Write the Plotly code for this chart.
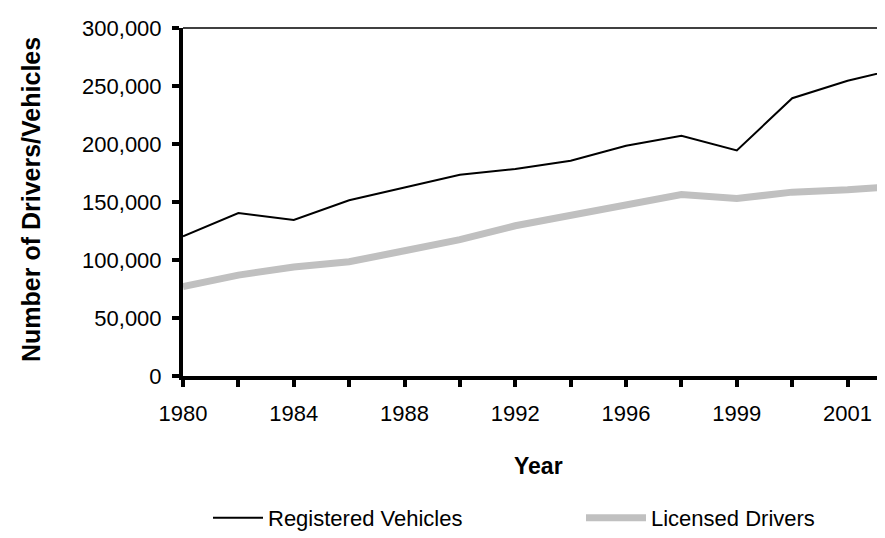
import plotly.graph_objects as go

years = ["1980", "1982", "1984", "1986", "1988", "1990", "1992", "1994",
         "1996", "1997", "1999", "2000", "2001", "2002"]
registered_vehicles = [120500, 140500, 134500, 151500, 162500, 173500, 178500, 185500,
                       198500, 207000, 194500, 239500, 254500, 266000]
licensed_drivers = [77000, 87000, 94000, 98500, 108000, 117500, 129500, 138500,
                    147500, 156500, 153000, 158500, 160500, 164000]
label_years = ["1980", "1984", "1988", "1992", "1996", "1999", "2001"]

idx = list(range(len(years)))
ticktext = [y if y in label_years else "" for y in years]

FONT = "Liberation Sans, Arial, sans-serif"

fig = go.Figure()
fig.add_trace(go.Scatter(x=idx, y=registered_vehicles, mode="lines",
                         name="Registered Vehicles", legend="legend",
                         line=dict(color="black", width=2)))
fig.add_trace(go.Scatter(x=idx, y=licensed_drivers, mode="lines",
                         name="Licensed Drivers", legend="legend2",
                         line=dict(color="#C0C0C0", width=7)))

leg_y = (368 - 510) / 348
fig.update_layout(
    width=885, height=538,
    margin=dict(l=175, r=0, t=20, b=170),
    paper_bgcolor="white", plot_bgcolor="white",
    font=dict(family=FONT, size=22, color="black"),
    showlegend=True,
    legend=dict(orientation="h", x=(200 - 175) / 710, xanchor="left",
                y=leg_y, yanchor="middle",
                font=dict(size=22), itemwidth=50, bgcolor="rgba(0,0,0,0)"),
    legend2=dict(orientation="h", x=(573 - 175) / 710, xanchor="left",
                 y=leg_y, yanchor="middle",
                 font=dict(size=22), itemwidth=60, bgcolor="rgba(0,0,0,0)"),
    xaxis=dict(range=[0, 12.82], tickvals=idx, ticktext=ticktext,
               showgrid=False, zeroline=False, showline=True, linecolor="black",
               linewidth=4, ticks="outside", ticklen=7, tickwidth=3.5,
               tickcolor="black", tickfont=dict(size=22), ticklabelstandoff=8),
    yaxis=dict(range=[0, 300000], dtick=50000, tickformat=",",
               showgrid=False, zeroline=False, showline=True, linecolor="black",
               linewidth=4, ticks="outside", ticklen=7, tickwidth=3.5,
               tickcolor="black", tickfont=dict(size=22), ticklabelstandoff=6),
)

fig.add_shape(type="line", xref="paper", yref="paper", x0=0, x1=1, y0=1, y1=1,
              line=dict(color="black", width=1.5))

fig.add_annotation(text="<b>Year</b>", xref="paper", yref="paper",
                   x=(530 - 175) / 710, y=(368 - 458) / 348,
                   xanchor="center", yanchor="middle",
                   showarrow=False, font=dict(size=23))
fig.add_annotation(text="<b>Number of Drivers/Vehicles</b>", xref="paper", yref="paper",
                   x=(23 - 175) / 710, y=(368 - 192) / 348, textangle=-90,
                   xanchor="center", yanchor="middle",
                   showarrow=False, font=dict(size=25))

fig.write_html("out.html")
